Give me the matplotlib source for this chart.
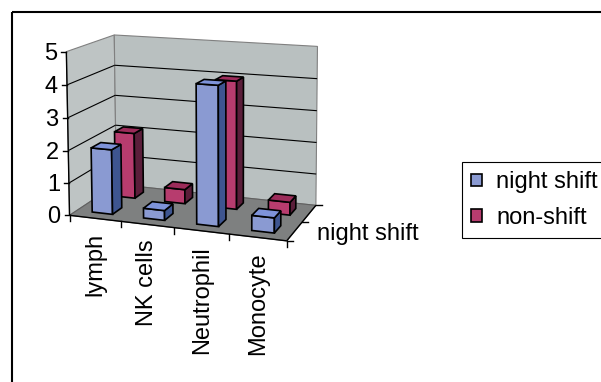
import numpy as np
import matplotlib.pyplot as plt
from matplotlib.patches import Polygon, Patch, Rectangle

plt.rcParams['font.family'] = ['Liberation Sans', 'DejaVu Sans']

# data
categories = ["lymph", "NK cells", "Neutrophil", "Monocyte"]
series_names = ["night shift", "non-shift"]
night_shift = [2.0, 0.3, 4.2, 0.45]
non_shift = [2.1, 0.45, 4.0, 0.4]
z_ticks = [0, 1, 2, 3, 4, 5]

# colours per series: front, top, side
face_cols = [("#8A9AD2", "#7E93D9", "#3E5590"),
             ("#B73C6E", "#9C2C5A", "#5B1E3A")]
wall_col = "#BEC4C4"
back_col = "#B9C0C0"
floor_col = "#7E8080"

# box: x = category, y = series row (depth), z = value
n_cat = len(categories)
n_row = len(series_names)
z_max = z_ticks[-1]

# where the box corners sit on the canvas (pixels) -> solve a perspective camera
frame_world = [(0, 0, 0), (n_cat, 0, 0), (0, n_row, 0), (n_cat, n_row, 0),
               (0, 0, z_max), (0, n_row, z_max), (n_cat, n_row, z_max),
               (0, 0, 1), (0, 0, 2), (0, 0, 3), (0, 0, 4), (n_cat, 1, 0)]
frame_px = [(70.5, 213), (286, 243), (115, 186), (317, 203),
            (66, 50), (115, 35), (317, 47),
            (69, 183), (68.5, 152), (67.5, 118.5), (67, 85), (302, 222)]


def solve_camera(world, px):
    rows = []
    for (X, Y, Z), (u, v) in zip(world, px):
        u, v = (u - 200) / 100, (v - 200) / 100
        p = [X, Y, Z, 1.0]
        rows.append(p + [0, 0, 0, 0] + [-u * c for c in p])
        rows.append([0, 0, 0, 0] + p + [-v * c for c in p])
    _, _, vt = np.linalg.svd(np.array(rows, float))
    return vt[-1].reshape(3, 4)


P = solve_camera(frame_world, frame_px)


def proj(X, Y, Z):
    h = P @ np.array([X, Y, Z, 1.0])
    return h[0] / h[2] * 100 + 200, h[1] / h[2] * 100 + 200


def poly(ax, pts3, fc, ec, lw, z):
    ax.add_patch(Polygon([proj(*p) for p in pts3], closed=True, facecolor=fc,
                         edgecolor=ec, linewidth=lw, joinstyle='miter', zorder=z))


def line3(ax, a, b, color, lw, z):
    pa, pb = proj(*a), proj(*b)
    ax.plot([pa[0], pb[0]], [pa[1], pb[1]], color=color, lw=lw, zorder=z,
            solid_capstyle='butt')


fig = plt.figure(figsize=(6.01, 3.82), dpi=100)
ax = fig.add_axes([0, 0, 1, 1])
ax.set_xlim(0, 601)
ax.set_ylim(382, 0)
ax.axis('off')

# chart area border (runs off the right and bottom edges)
ax.add_patch(Rectangle((11.5, 11.5), 700, 500, fill=False, ec='black', lw=1.5, zorder=0))

# walls and floor
poly(ax, [(0, 0, 0), (0, n_row, 0), (0, n_row, z_max), (0, 0, z_max)], wall_col, '#808080', 0.8, 1)
poly(ax, [(0, n_row, 0), (n_cat, n_row, 0), (n_cat, n_row, z_max), (0, n_row, z_max)], back_col, '#808080', 0.8, 1)
poly(ax, [(0, 0, 0), (n_cat, 0, 0), (n_cat, n_row, 0), (0, n_row, 0)], floor_col, '#606060', 0.8, 1)

# gridlines
for k in z_ticks[1:-1]:
    line3(ax, (0, 0, k), (0, n_row, k), 'black', 0.8, 2)
    line3(ax, (0, n_row, k), (n_cat, n_row, k), 'black', 0.8, 2)

# axis lines
line3(ax, (0, 0, 0), (0, 0, z_max), 'black', 1.0, 2)
line3(ax, (0, 0, 0), (n_cat, 0, 0), 'black', 1.0, 2)
line3(ax, (n_cat, 0, 0), (n_cat, n_row, 0), 'black', 1.0, 2)

# value axis ticks and labels
for k in z_ticks:
    x, y = proj(0, 0, k)
    ax.plot([x - 5, x], [y, y], color='black', lw=1.0, zorder=2)
    ax.text(x - 9, y + 2, str(k), ha='right', va='center', fontsize=17)

# category ticks and labels
for i in range(n_cat + 1):
    x, y = proj(i, 0, 0)
    ax.plot([x, x], [y, y + 6], color='black', lw=1.0, zorder=2)
for i, name in enumerate(categories):
    x, y = proj(i + 0.5, 0, 0)
    ax.text(x, y + 15, name, rotation=90, ha='center', va='top', fontsize=17)

# depth axis ticks and the first series label
for j in range(n_row + 1):
    x, y = proj(n_cat, j, 0)
    ax.plot([x, x + 6], [y, y], color='black', lw=1.0, zorder=2)
x, y = proj(n_cat, 0.5, 0)
ax.text(x + 22, y + 3, series_names[0], ha='left', va='center', fontsize=17)

# columns: back row first, left to right
bar_w = 0.4
bar_d = 0.4
values = [night_shift, non_shift]
zo = 3
for j in reversed(range(n_row)):
    front, top, side = face_cols[j]
    y0 = j + (1 - bar_d) / 2
    y1 = y0 + bar_d
    for i, h in enumerate(values[j]):
        x0 = i + (1 - bar_w) / 2
        x1 = x0 + bar_w
        poly(ax, [(x0, y0, 0), (x1, y0, 0), (x1, y0, h), (x0, y0, h)], front, 'black', 1.2, zo)
        poly(ax, [(x1, y0, 0), (x1, y1, 0), (x1, y1, h), (x1, y0, h)], side, 'black', 1.2, zo)
        poly(ax, [(x0, y0, h), (x1, y0, h), (x1, y1, h), (x0, y1, h)], top, 'black', 1.2, zo)
        zo += 1

# legend
handles = [Patch(facecolor=c[0], edgecolor='black', lw=1.2) for c in face_cols]
leg = ax.legend(handles, series_names, loc='upper left',
                bbox_to_anchor=(462 / 601, 1 - 162 / 382), bbox_transform=ax.transAxes,
                borderaxespad=0, fontsize=17, frameon=True, fancybox=False,
                edgecolor='black', framealpha=1, handlelength=0.45, handleheight=0.45,
                handletextpad=0.6, labelspacing=0.56, borderpad=0.4)
leg.get_frame().set_linewidth(0.8)

plt.savefig('out.png', dpi=100)
plt.close()
